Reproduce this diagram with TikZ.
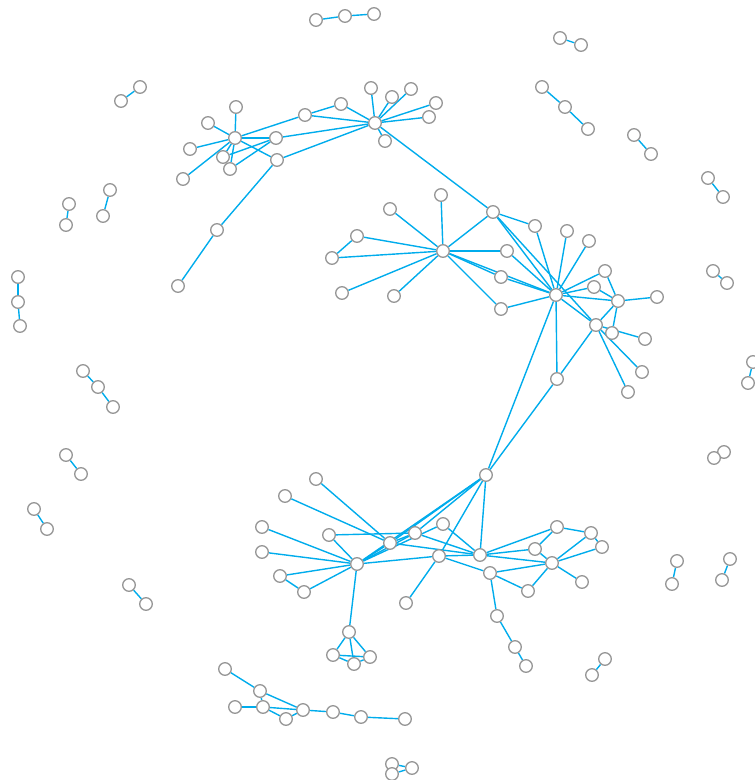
\documentclass[tikz,border=0pt]{standalone}
\pgfdeclarelayer{edges}
\pgfsetlayers{edges,main}
\definecolor{edgeblue}{RGB}{0,172,236}
\definecolor{ringgray}{RGB}{150,150,150}
\tikzset{
  v/.style={circle,draw=ringgray,line width=1.3pt,fill=white,minimum size=12.6pt,inner sep=0pt},
  link/.style={draw=edgeblue,line width=1.4pt}
}
\begin{document}
\begin{tikzpicture}[x=1pt,y=-1pt]
\useasboundingbox (0,0) rectangle (755,780);
% ---- nodes ----
\foreach \n/\x/\y in {
 a0/235/138,a1/236/107,a2/208/123,a3/190/149,a4/183/179,a5/223/157,a6/230/169,
 a7/276/138,a8/277/160,a9/305/115,a10/341/104,a11/217/230,a12/178/286,
 b0/375/123,b1/371/88,b2/392/97,b3/411/89,b4/436/103,b5/429/117,b6/385/141,
 c0/443/251,c1/441/195,c2/390/209,c3/357/236,c4/332/258,c5/342/293,c6/394/296,
 c7/493/212,c8/507/251,c9/501/277,c10/501/309,
 d0/556/295,d1/535/226,d2/567/231,d3/589/241,d4/605/271,d5/594/287,d6/618/301,
 d7/657/297,d8/596/325,d9/612/333,d10/645/339,d11/642/372,d12/628/392,d13/557/379,
 e0/486/475,
 f0/357/564,f1/316/479,f2/285/496,f3/262/527,f4/262/552,f5/280/576,f6/304/592,
 f7/329/535,f8/390/543,f9/415/533,f10/443/524,f11/439/556,f12/406/603,
 g0/480/555,g1/490/573,g2/535/549,g3/557/527,g4/591/533,g5/602/547,g6/552/563,
 g7/582/582,g8/528/591,g9/497/616,g10/515/647,g11/526/666,
 k0/349/632,k1/333/655,k2/354/664,k3/370/657,
 h1/225/669,h2/260/691,h3/235/707,h4/263/707,h5/286/719,h6/303/710,h7/333/712,
 h8/361/717,h9/405/719,
 i1/392/764,i2/392/774,i3/412/768,
 p1/316/20,p2/345/16,p3/374/14,
 r1/560/38,r2/581/45,
 s1/542/87,s2/565/107,s3/588/129,
 t1/634/135,t2/651/154,
 u1/708/178,u2/723/197,
 w1/713/271,w2/727/283,
 x1/753/362,x2/748/383,
 y1/724/452,y2/714/458,
 z1/677/561,z2/672/584,
 z3/730/559,z4/722/580,
 z5/605/659,z6/592/675,
 q1/140/87,q2/121/101,
 q3/110/190,q4/103/216,
 q5/69/204,q6/66/225,
 q7/18/277,q8/18/302,q9/20/326,
 m1/83/371,m2/98/387,m3/113/407,
 m4/66/455,m5/81/474,
 m6/34/509,m7/47/529,
 m8/129/585,m9/146/604}
 \node[v] (\n) at (\x,\y) {};
% ---- connectors ----
\begin{pgfonlayer}{edges}
\foreach \s/\t in {
 a0/a1,a0/a2,a0/a3,a0/a4,a0/a5,a0/a6,a0/a7,a0/a8,a0/a9,a5/a7,a6/a7,
 a9/a10,a9/b0,a10/b0,a7/b0,a8/b0,a8/a11,a11/a12,
 b0/b1,b0/b2,b0/b3,b0/b4,b0/b5,b0/b6,b0/c7,
 c0/c1,c0/c2,c0/c3,c0/c4,c0/c5,c0/c6,c0/c7,c0/c8,c0/c9,c0/c10,c0/d0,c3/c4,
 c9/d0,c10/d0,c8/d0,c7/d1,c7/d0,c7/d8,
 d0/d1,d0/d2,d0/d3,d0/d4,d0/d5,d0/d6,d0/d8,d0/d13,d0/e0,
 d4/d6,d5/d6,d6/d7,d6/d8,d6/d9,d8/d10,d8/d11,d8/d12,d8/d13,d13/e0,
 e0/f0,e0/f8,e0/f9,e0/f11,e0/g0,
 f1/f8,f2/f8,f3/f0,f4/f0,f5/f0,f5/f6,f6/f0,f7/f0,f7/f9,
 f0/f8,f0/f9,f0/f10,f0/f11,f0/k0,f8/f9,f8/g0,f9/g0,f10/g0,f11/g0,f11/f12,
 g0/g2,g0/g3,g0/g6,f11/g1,g1/g6,g1/g8,g1/g9,g9/g10,g10/g11,
 g3/g4,g3/g2,g6/g2,g6/g4,g6/g5,g6/g7,g6/g8,g4/g5,
 k0/k1,k0/k2,k0/k3,k1/k3,k1/k2,k2/k3,
 h1/h2,h2/h6,h2/h4,h3/h4,h4/h6,h4/h5,h5/h6,h6/h7,h7/h8,h8/h9,
 i1/i3,i2/i3,
 p1/p2,p2/p3,r1/r2,s1/s2,s2/s3,t1/t2,u1/u2,w1/w2,x1/x2,y1/y2,
 z1/z2,z3/z4,z5/z6,q1/q2,q3/q4,q5/q6,q7/q8,q8/q9,m1/m2,m2/m3,m4/m5,m6/m7,m8/m9}
 \draw[link] (\s) -- (\t);
\end{pgfonlayer}
\end{tikzpicture}
\end{document}
